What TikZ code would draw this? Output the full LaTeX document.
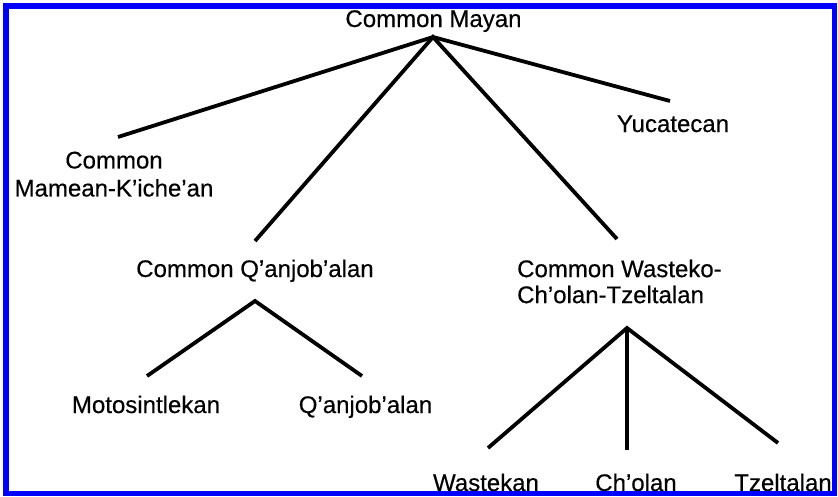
\documentclass[tikz,border=0pt]{standalone}
\usepackage{fontspec}
\setmainfont{Liberation Sans}
\newfontfamily\langfont[FakeBold=0.4]{Liberation Sans}
\definecolor{frameblue}{RGB}{0,0,255}
\begin{document}
\begin{tikzpicture}[x=1pt,y=-1pt,
  lang/.style={font=\langfont\fontsize{24}{27}\selectfont, inner sep=0pt, text=black},
  branch/.style={line width=3.8pt, line join=miter, draw=black}]
\useasboundingbox (0,0) rectangle (838,496);

% language labels
\node[lang, anchor=base] (mayan) at (433.5,27) {Common Mayan};
\node[lang, anchor=north, align=center, font=\langfont\fontsize{24}{28}\selectfont] (mamean) at (114,151.5) {Common\\Mamean-K’iche’an};
\node[lang, anchor=base] (yuca) at (673,132) {Yucatecan};
\node[lang, anchor=base] (qanj) at (255,277) {Common Q’anjob’alan};
\node[lang, anchor=north west, align=left, font=\langfont\fontsize{24}{26}\selectfont] (wast) at (517,259.5) {Common Wasteko-\\Ch’olan-Tzeltalan};
\node[lang, anchor=base] (moto) at (146,413) {Motosintlekan};
\node[lang, anchor=base] (qanjb) at (365.5,413) {Q’anjob’alan};
\node[lang, anchor=base] (wastekan) at (486,491) {Wastekan};
\node[lang, anchor=base] (cholan) at (636,491) {Ch’olan};
\node[lang, anchor=base] (tzelt) at (783,491) {Tzeltalan};

% branch points and branch ends
\coordinate (mayan-root) at (433,37);
\coordinate (mamean-top) at (118,137);
\coordinate (yuca-top) at (670,101);
\coordinate (qanj-top) at (255,241);
\coordinate (wast-top) at (617,239);
\coordinate (qanj-root) at (255,301);
\coordinate (moto-top) at (147,376);
\coordinate (qanjb-top) at (362,376);
\coordinate (wast-root) at (627,328);
\coordinate (wastekan-top) at (488,448);
\coordinate (cholan-top) at (627,450);
\coordinate (tzelt-top) at (778,443);

% tree branches
\draw[branch] (mamean-top) -- (mayan-root) -- (yuca-top);
\draw[branch] (qanj-top) -- (mayan-root) -- (wast-top);
\draw[branch] (moto-top) -- (qanj-root) -- (qanjb-top);
\draw[branch] (wastekan-top) -- (wast-root) -- (tzelt-top);
\draw[branch] (wast-root) -- (cholan-top);

% outer frame
\draw[frameblue, line width=5.5pt] (6,6) rectangle (834.5,493.5);
\end{tikzpicture}
\end{document}
